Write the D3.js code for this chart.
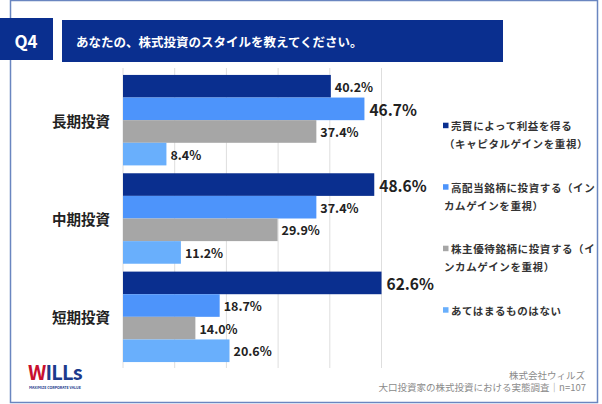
<!DOCTYPE html>
<html>
<head>
<meta charset="utf-8">
<script src="https://cdn.jsdelivr.net/npm/d3@7"></script>
<style>
  body { margin: 0; background: #fff; }
  text { font-family: "Noto Sans CJK JP", "Noto Sans", sans-serif; }
</style>
</head>
<body>
<div id="chart"></div>
<script>
// Data
var categories = ["長期投資", "中期投資", "短期投資"];
var seriesNames = [
  ["売買によって利益を得る", "（キャピタルゲインを重視）"],
  ["高配当銘柄に投資する（イン", "カムゲインを重視）"],
  ["株主優待銘柄に投資する（イ", "ンカムゲインを重視）"],
  ["あてはまるものはない"]
];
var seriesValues = [
  [40.2, 48.6, 62.6],
  [46.7, 37.4, 18.7],
  [37.4, 29.9, 14.0],
  [8.4, 11.2, 20.6]
];
var gridTicks = [0, 10, 20, 30, 40, 50];
var colors = ["#0a2f8f", "#4d94fb", "#a6a6a6", "#69affc"];

var svgWidth = 602;
var svgHeight = 404;

var svg = d3.select("#chart")
  .append("svg")
  .attr("width", svgWidth)
  .attr("height", svgHeight);

// Frame
svg.append("rect")
  .attr("x", 10.5).attr("y", 0.5)
  .attr("width", 587).attr("height", 402)
  .attr("fill", "#fff")
  .attr("stroke", "#6a86c0")
  .attr("stroke-width", 1.5);

// Header
svg.append("rect")
  .attr("x", 0).attr("y", 18)
  .attr("width", 53).attr("height", 42)
  .attr("fill", "#0a2f8f");
svg.append("text")
  .attr("x", 26).attr("y", 40)
  .attr("text-anchor", "middle")
  .attr("dominant-baseline", "central")
  .attr("fill", "#fff")
  .attr("font-size", 17)
  .attr("font-weight", "bold")
  .text("Q4");
svg.append("rect")
  .attr("x", 62).attr("y", 20)
  .attr("width", 441).attr("height", 42)
  .attr("fill", "#0a2f8f");
svg.append("text")
  .attr("x", 76).attr("y", 41)
  .attr("dominant-baseline", "central")
  .attr("fill", "#fff")
  .attr("font-size", 12.5)
  .attr("font-weight", "bold")
  .text("あなたの、株式投資のスタイルを教えてください。");

// Scales
var xScale = d3.scaleLinear()
  .domain([0, 50])
  .range([123, 381.5])
  .clamp(true);

var yScale = d3.scaleBand()
  .domain(categories)
  .range([71, 366])
  .paddingInner(0.08)
  .paddingOuter(0.04);

var ySub = d3.scaleBand()
  .domain(d3.range(seriesValues.length))
  .range([0, yScale.bandwidth()]);

// Gridlines
svg.append("g")
  .selectAll("line")
  .data(gridTicks)
  .enter()
  .append("line")
  .attr("x1", d => xScale(d))
  .attr("x2", d => xScale(d))
  .attr("y1", 68)
  .attr("y2", 368)
  .attr("stroke", "#dedede")
  .attr("stroke-width", 1);

// Category labels
svg.append("g")
  .selectAll("text")
  .data(categories)
  .enter()
  .append("text")
  .attr("x", 81)
  .attr("y", d => yScale(d) + yScale.bandwidth() / 2)
  .attr("text-anchor", "middle")
  .attr("dominant-baseline", "central")
  .attr("font-size", 14.5)
  .attr("font-weight", "bold")
  .attr("fill", "#222")
  .text(d => d);

// Bars
var barData = [];
categories.forEach(function(c, ci) {
  var groupMax = d3.max(seriesValues, s => s[ci]);
  seriesValues.forEach(function(s, si) {
    barData.push({cat: c, series: si, value: s[ci], isMax: s[ci] === groupMax});
  });
});

svg.append("g")
  .selectAll("rect")
  .data(barData)
  .enter()
  .append("rect")
  .attr("x", xScale(0))
  .attr("y", d => yScale(d.cat) + ySub(d.series))
  .attr("width", d => xScale(d.value) - xScale(0))
  .attr("height", ySub.bandwidth())
  .attr("fill", d => colors[d.series]);

svg.append("g")
  .selectAll("text")
  .data(barData)
  .enter()
  .append("text")
  .attr("x", d => xScale(d.value) + (d.isMax ? 5 : 4))
  .attr("y", d => yScale(d.cat) + ySub(d.series) + ySub.bandwidth() / 2)
  .attr("dominant-baseline", "central")
  .attr("font-size", d => d.isMax ? 15.5 : 12.5)
  .attr("font-weight", "bold")
  .attr("fill", "#222")
  .text(d => d.value.toFixed(1) + "%");

// Legend
var legend = svg.append("g")
  .selectAll("g")
  .data(seriesNames)
  .enter()
  .append("g")
  .attr("transform", (d, i) => `translate(443, ${125.5 + i * 61.5})`);

legend.append("rect")
  .attr("x", 0).attr("y", -2.8)
  .attr("width", 5.5).attr("height", 5.5)
  .attr("fill", (d, i) => colors[i]);

legend.each(function(lines) {
  var g = d3.select(this);
  lines.forEach(function(line, li) {
    g.append("text")
      .attr("x", li === 0 ? 8 : 1)
      .attr("y", li * 18)
      .attr("dominant-baseline", "central")
      .attr("font-size", 10.5)
      .attr("font-weight", "bold")
      .attr("letter-spacing", 0.6)
      .attr("fill", "#333")
      .text(line);
  });
});

// Source
svg.append("text")
  .attr("x", 585).attr("y", 374.5)
  .attr("text-anchor", "end")
  .attr("dominant-baseline", "central")
  .attr("font-size", 9.5)
  .attr("fill", "#8a8a8a")
  .text("株式会社ウィルズ");
svg.append("text")
  .attr("x", 586).attr("y", 387)
  .attr("text-anchor", "end")
  .attr("dominant-baseline", "central")
  .attr("font-size", 9.5)
  .attr("fill", "#8a8a8a")
  .text("大口投資家の株式投資における実態調査｜n=107");

// Logo
var logo = svg.append("text")
  .attr("x", 28).attr("y", 380)
  .attr("font-size", 20)
  .attr("font-weight", "bold")
  .attr("font-family", "Liberation Sans, sans-serif")
  .attr("letter-spacing", -0.8);
logo.append("tspan").attr("fill", "#c8102e").text("W");
logo.append("tspan").attr("fill", "#1c3a8c").text("ILLs");
svg.append("text")
  .attr("x", 29).attr("y", 389)
  .attr("font-size", 3.6)
  .attr("font-weight", "bold")
  .attr("font-family", "Liberation Sans, sans-serif")
  .attr("fill", "#1c3a8c")
  .text("MAXIMIZE CORPORATE VALUE");
</script>
</body>
</html>
